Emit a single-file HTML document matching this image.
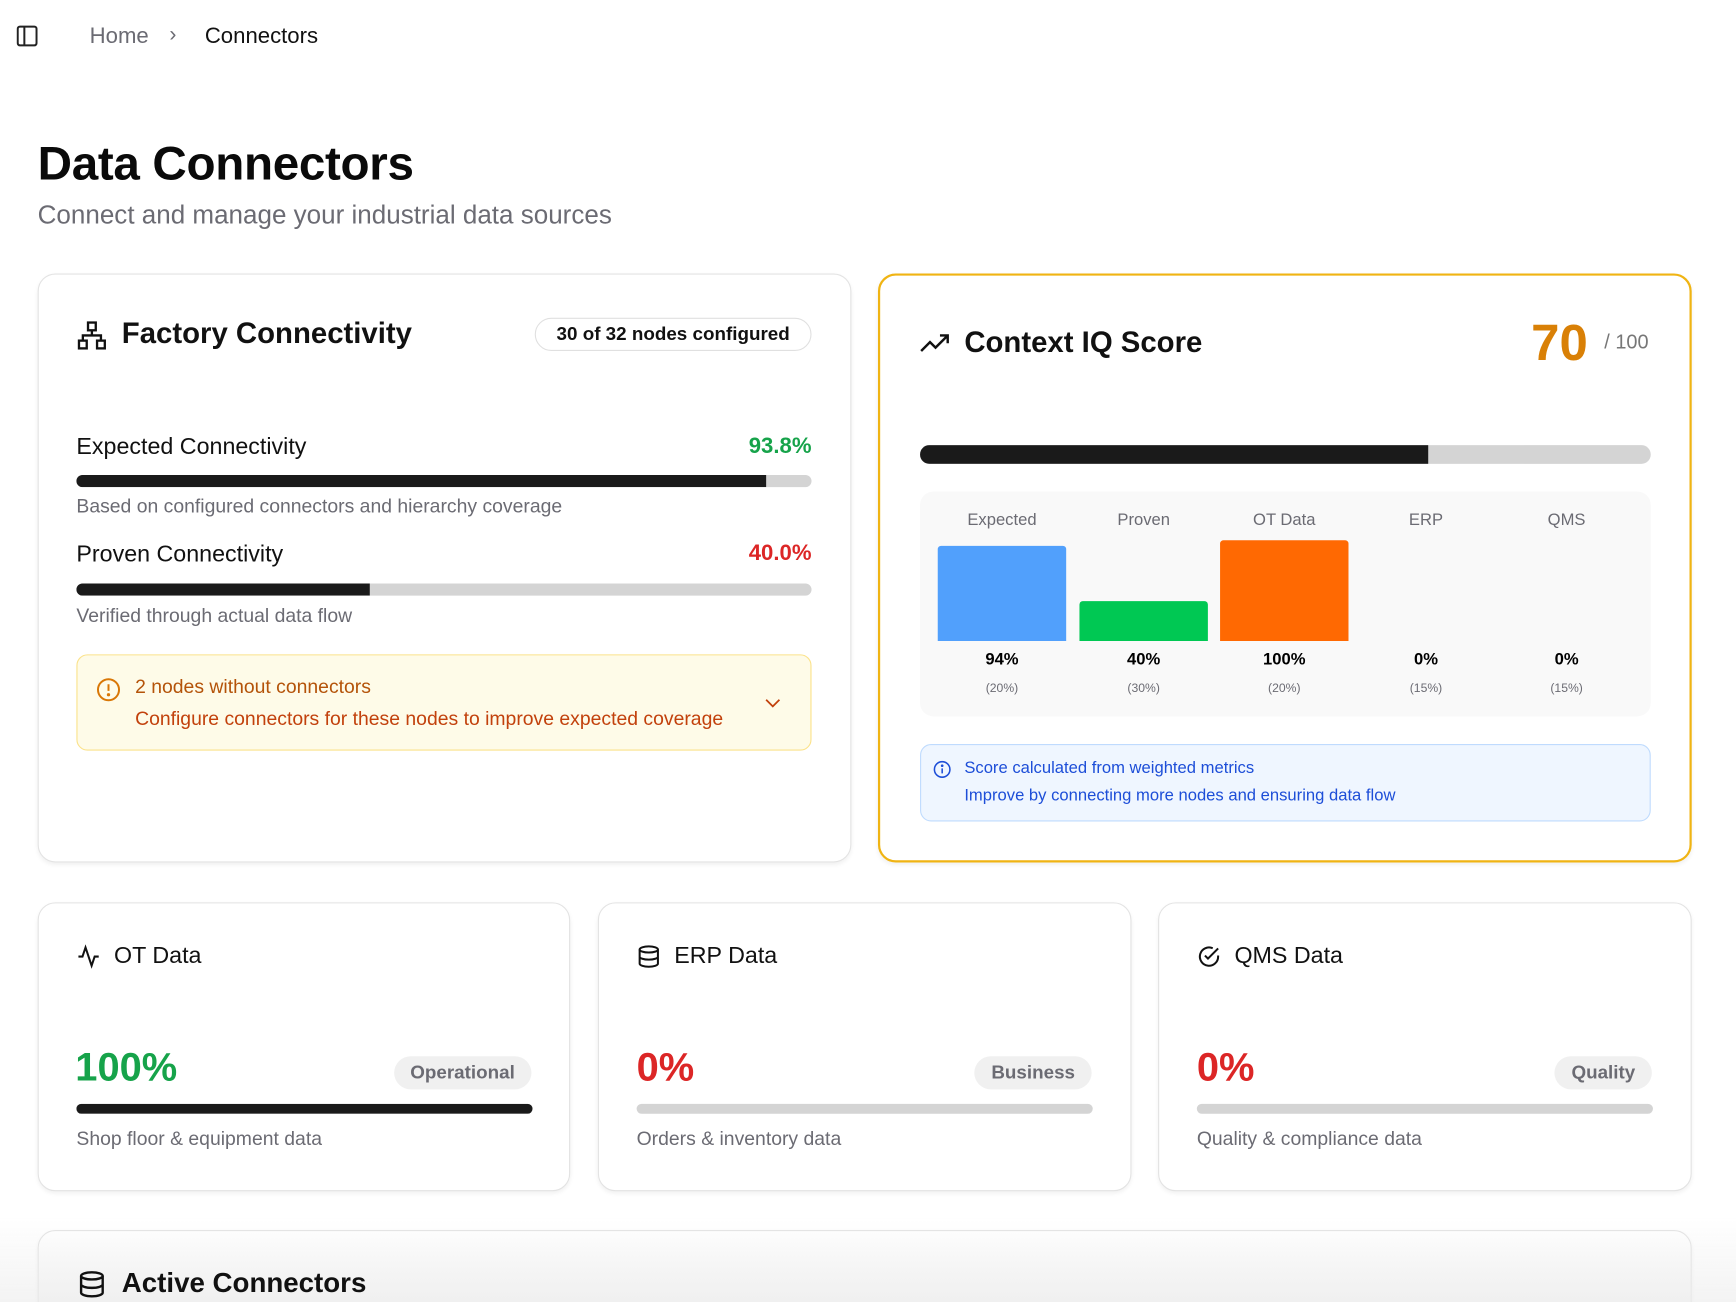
<!DOCTYPE html>
<html><head><meta charset="utf-8"><style>
html,body{margin:0;padding:0;width:1736px;height:1302px;overflow:hidden;background:#fff;font-family:"Liberation Sans",sans-serif;}
#w{position:absolute;left:0;top:0;width:1568px;height:1176px;transform:scale(1.10714);transform-origin:0 0;overflow:hidden;}
.a{position:absolute;white-space:nowrap;}
.card{position:absolute;background:#fff;border:1px solid #e3e3e3;border-radius:16px;box-shadow:0 2px 4px rgba(0,0,0,.06);box-sizing:border-box;}
.bar{position:absolute;height:11px;background:#d4d4d4;border-radius:6px;overflow:hidden;}
.bar i{position:absolute;left:0;top:0;bottom:0;background:#1a1a1a;}
.g{color:#6b6b73;}
.pill{position:absolute;background:#f0f0f0;border-radius:15px;height:30px;line-height:30px;padding:0 15px;font-size:17px;color:#6b6b73;font-weight:bold;}
.c{position:absolute;width:116px;text-align:center;}
</style></head><body><div id="w">
<svg class="a" style="left:15px;top:23px" width="19" height="19" viewBox="0 0 19 19" fill="none" stroke="#222" stroke-width="1.8"><rect x="1" y="1" width="17" height="17" rx="2"/><line x1="7" y1="1" x2="7" y2="18"/></svg>
<div class="a g" style="left:81px;top:22px;font-size:20px">Home</div>
<div class="a g" style="left:153px;top:21px;font-size:19px">›</div>
<div class="a" style="left:185px;top:22px;font-size:20px;color:#111">Connectors</div>
<div class="a" style="left:34px;top:124px;font-size:43px;font-weight:bold;color:#0a0a0a;letter-spacing:-0.3px">Data Connectors</div>
<div class="a g" style="left:34px;top:181px;font-size:23.5px">Connect and manage your industrial data sources</div>

<div class="card" style="left:34px;top:247px;width:735px;height:532px"></div>
<svg class="a" style="left:69px;top:289px" width="28" height="28" viewBox="0 0 24 24" fill="none" stroke="#111" stroke-width="1.8"><rect x="9" y="2" width="6" height="6"/><rect x="2" y="16" width="6" height="6"/><rect x="16" y="16" width="6" height="6"/><path d="M5 16v-4h14v4M12 8v4"/></svg>
<div class="a" style="left:110px;top:286px;font-size:26.5px;font-weight:bold;color:#111">Factory Connectivity</div>
<div class="a" style="left:483px;top:287px;width:250px;height:30px;border:1px solid #e0e0e0;border-radius:16px;box-sizing:border-box;text-align:center;line-height:28px;font-size:17px;font-weight:bold;color:#111">30 of 32 nodes configured</div>
<div class="a" style="left:69px;top:392px;font-size:21px;color:#111">Expected Connectivity</div>
<div class="a" style="left:633px;top:392px;width:100px;text-align:right;font-size:20px;font-weight:bold;color:#16a34a">93.8%</div>
<div class="bar" style="left:69px;top:429px;width:664px"><i style="width:623px"></i></div>
<div class="a g" style="left:69px;top:447px;font-size:17.5px">Based on configured connectors and hierarchy coverage</div>
<div class="a" style="left:69px;top:489px;font-size:21px;color:#111">Proven Connectivity</div>
<div class="a" style="left:633px;top:489px;width:100px;text-align:right;font-size:20px;font-weight:bold;color:#dc2626">40.0%</div>
<div class="bar" style="left:69px;top:527px;width:664px"><i style="width:265px"></i></div>
<div class="a g" style="left:69px;top:546px;font-size:17.5px">Verified through actual data flow</div>
<div class="a" style="left:69px;top:591px;width:664px;height:87px;background:#fefbe8;border:1px solid #fbe28a;border-radius:10px;box-sizing:border-box"></div>
<svg class="a" style="left:87px;top:612px" width="22" height="22" viewBox="0 0 22 22" fill="none" stroke="#d97706" stroke-width="1.8"><circle cx="11" cy="11" r="9.5"/><line x1="11" y1="6" x2="11" y2="12"/><circle cx="11" cy="15.5" r=".6" fill="#d97706"/></svg>
<div class="a" style="left:122px;top:610px;font-size:17.5px;color:#b45309">2 nodes without connectors</div>
<div class="a" style="left:122px;top:639px;font-size:17.5px;color:#c2410c">Configure connectors for these nodes to improve expected coverage</div>
<svg class="a" style="left:691px;top:630px" width="14" height="10" viewBox="0 0 14 10" fill="none" stroke="#c2410c" stroke-width="1.6"><path d="M1 2l6 6 6-6"/></svg>

<div class="card" style="left:793px;top:247px;width:735px;height:532px;border:2px solid #f0b413"></div>
<svg class="a" style="left:831px;top:299px" width="28" height="22" viewBox="0 0 28 22" fill="none" stroke="#111" stroke-width="2.2"><path d="M1 18l8-8 5 5 11-11M18 4h7v7"/></svg>
<div class="a" style="left:871px;top:294px;font-size:26.5px;font-weight:bold;color:#111">Context IQ Score</div>
<div class="a" style="left:1383px;top:282px;font-size:46px;font-weight:bold;color:#d98006">70</div>
<div class="a" style="left:1449px;top:299px;font-size:18px;color:#777">/ 100</div>
<div class="bar" style="left:831px;top:402px;width:660px;height:17px;border-radius:9px"><i style="width:459px"></i></div>
<div class="a" style="left:831px;top:444px;width:660px;height:203px;background:#f9f9f9;border-radius:12px"></div>
<div class="c g" style="left:847px;top:461px;font-size:15px">Expected</div>
<div class="c g" style="left:975px;top:461px;font-size:15px">Proven</div>
<div class="c g" style="left:1102px;top:461px;font-size:15px">OT Data</div>
<div class="c g" style="left:1230px;top:461px;font-size:15px">ERP</div>
<div class="c g" style="left:1357px;top:461px;font-size:15px">QMS</div>
<div class="a" style="left:847px;top:493px;width:116px;height:86px;background:#51a0fc;border-radius:3px 3px 0 0"></div>
<div class="a" style="left:975px;top:543px;width:116px;height:36px;background:#00c853;border-radius:3px 3px 0 0"></div>
<div class="a" style="left:1102px;top:488px;width:116px;height:91px;background:#ff6902;border-radius:3px 3px 0 0"></div>
<div class="c" style="left:847px;top:587px;font-size:15px;font-weight:bold">94%</div>
<div class="c" style="left:975px;top:587px;font-size:15px;font-weight:bold">40%</div>
<div class="c" style="left:1102px;top:587px;font-size:15px;font-weight:bold">100%</div>
<div class="c" style="left:1230px;top:587px;font-size:15px;font-weight:bold">0%</div>
<div class="c" style="left:1357px;top:587px;font-size:15px;font-weight:bold">0%</div>
<div class="c g" style="left:847px;top:616px;font-size:11px">(20%)</div>
<div class="c g" style="left:975px;top:616px;font-size:11px">(30%)</div>
<div class="c g" style="left:1102px;top:616px;font-size:11px">(20%)</div>
<div class="c g" style="left:1230px;top:616px;font-size:11px">(15%)</div>
<div class="c g" style="left:1357px;top:616px;font-size:11px">(15%)</div>
<div class="a" style="left:831px;top:672px;width:660px;height:70px;background:#eff6ff;border:1px solid #bfdbfe;border-radius:10px;box-sizing:border-box"></div>
<svg class="a" style="left:843px;top:687px" width="16" height="16" viewBox="0 0 16 16" fill="none" stroke="#1d4ed8" stroke-width="1.4"><circle cx="8" cy="8" r="7"/><line x1="8" y1="7" x2="8" y2="11.5"/><circle cx="8" cy="4.6" r=".5" fill="#1d4ed8"/></svg>
<div class="a" style="left:871px;top:685px;font-size:15px;color:#1d4ed8">Score calculated from weighted metrics</div>
<div class="a" style="left:871px;top:710px;font-size:15px;color:#1d4ed8">Improve by connecting more nodes and ensuring data flow</div>

<div class="card" style="left:34px;top:815px;width:481px;height:261px"></div>
<div class="card" style="left:540px;top:815px;width:482px;height:261px"></div>
<div class="card" style="left:1046px;top:815px;width:482px;height:261px"></div>
<svg class="a" style="left:69px;top:853px" width="22" height="22" viewBox="0 0 24 24" fill="none" stroke="#111" stroke-width="2"><path d="M22 12h-4l-3 9L9 3l-3 9H2"/></svg>
<div class="a" style="left:103px;top:852px;font-size:21px;color:#111">OT Data</div>
<svg class="a" style="left:575px;top:853px" width="22" height="22" viewBox="0 0 24 24" fill="none" stroke="#111" stroke-width="2"><ellipse cx="12" cy="5" rx="9" ry="3"/><path d="M3 5v14c0 1.7 4 3 9 3s9-1.3 9-3V5M3 12c0 1.7 4 3 9 3s9-1.3 9-3"/></svg>
<div class="a" style="left:609px;top:852px;font-size:21px;color:#111">ERP Data</div>
<svg class="a" style="left:1081px;top:853px" width="22" height="22" viewBox="0 0 24 24" fill="none" stroke="#111" stroke-width="2"><path d="M21 11v1a9 9 0 1 1-5.3-8.2"/><path d="M8 11l3 3 10-10"/></svg>
<div class="a" style="left:1115px;top:852px;font-size:21px;color:#111">QMS Data</div>
<div class="a" style="left:68px;top:943px;font-size:36px;font-weight:bold;color:#16a34a">100%</div>
<div class="a" style="left:575px;top:943px;font-size:36px;font-weight:bold;color:#dc2626">0%</div>
<div class="a" style="left:1081px;top:943px;font-size:36px;font-weight:bold;color:#dc2626">0%</div>
<div class="pill" style="right:1088px;top:954px">Operational</div>
<div class="pill" style="right:582px;top:954px">Business</div>
<div class="pill" style="right:76px;top:954px">Quality</div>
<div class="bar" style="left:69px;top:997px;width:412px;height:9px"><i style="width:100%"></i></div>
<div class="bar" style="left:575px;top:997px;width:412px;height:9px"></div>
<div class="bar" style="left:1081px;top:997px;width:412px;height:9px"></div>
<div class="a g" style="left:69px;top:1018px;font-size:17.5px">Shop floor &amp; equipment data</div>
<div class="a g" style="left:575px;top:1018px;font-size:17.5px">Orders &amp; inventory data</div>
<div class="a g" style="left:1081px;top:1018px;font-size:17.5px">Quality &amp; compliance data</div>

<div class="card" style="left:34px;top:1111px;width:1494px;height:120px;background:linear-gradient(#fff,#f1f1f1)"></div>
<div class="a" style="left:0;top:1100px;width:1568px;height:76px;background:linear-gradient(rgba(240,240,240,0),rgba(235,235,235,.6));"></div>
<svg class="a" style="left:70px;top:1146px" width="26" height="28" viewBox="0 0 24 24" fill="none" stroke="#111" stroke-width="2"><ellipse cx="12" cy="5" rx="9" ry="3"/><path d="M3 5v14c0 1.7 4 3 9 3s9-1.3 9-3V5M3 12c0 1.7 4 3 9 3s9-1.3 9-3"/></svg>
<div class="a" style="left:110px;top:1145px;font-size:25px;font-weight:bold;color:#111">Active Connectors</div>
</div></body></html>
